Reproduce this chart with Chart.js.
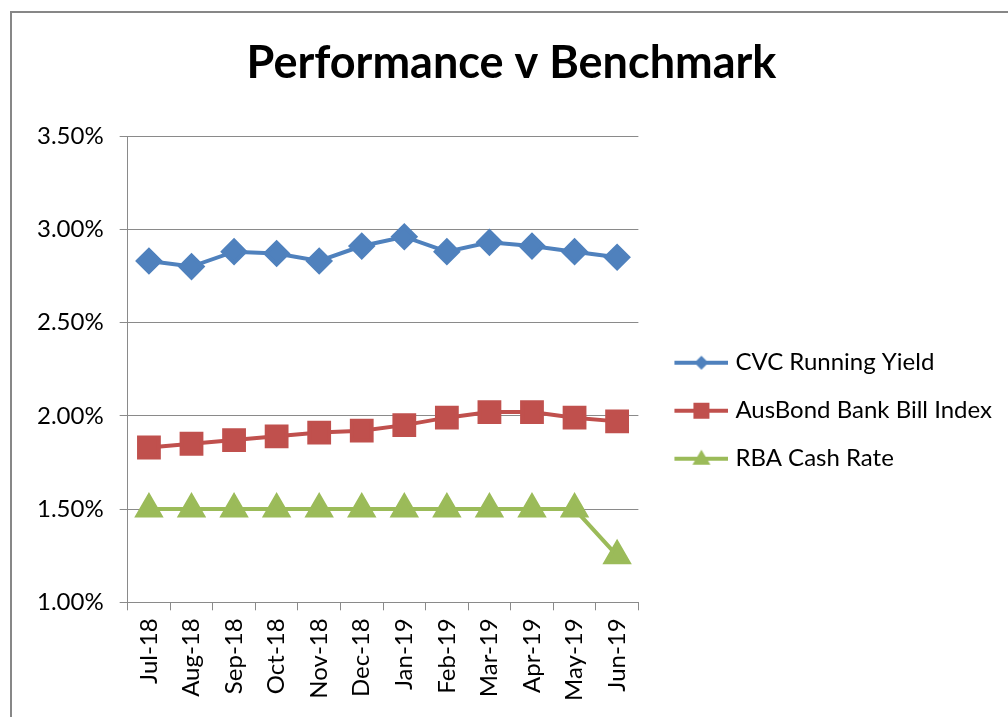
<!DOCTYPE html>
<html>
<head>
<meta charset="utf-8">
<script src="https://cdn.jsdelivr.net/npm/chart.js@4"></script>
<style>
  body { margin: 0; background: #fff; }
  #wrap { width: 1008px; height: 717px; }
</style>
</head>
<body>
<div id="wrap"><canvas id="perf-graph" width="1008" height="717"></canvas></div>
<script>
const months = ['Jul-18', 'Aug-18', 'Sep-18', 'Oct-18', 'Nov-18', 'Dec-18',
                'Jan-19', 'Feb-19', 'Mar-19', 'Apr-19', 'May-19', 'Jun-19'];
const cvcYield = [2.83, 2.80, 2.88, 2.87, 2.83, 2.91, 2.96, 2.88, 2.93, 2.91, 2.88, 2.85];
const ausBond = [1.83, 1.85, 1.87, 1.89, 1.91, 1.92, 1.95, 1.99, 2.02, 2.02, 1.99, 1.97];
const rbaCash = [1.50, 1.50, 1.50, 1.50, 1.50, 1.50, 1.50, 1.50, 1.50, 1.50, 1.50, 1.25];
const yTicks = [1.00, 1.50, 2.00, 2.50, 3.00, 3.50];

const FONT = 'Lato';
const gridGrey = '#8a8a8a';

// legend icon: short line with the marker in the middle
function legendIcon(color, shape) {
    const c = document.createElement('canvas');
    c.width = 71; c.height = 24;
    const g = c.getContext('2d');
    g.strokeStyle = color; g.fillStyle = color; g.lineWidth = 4;
    g.beginPath(); g.moveTo(17, 12); g.lineTo(71, 12); g.stroke();
    const cx = 44, cy = 12;
    g.beginPath();
    if (shape == 'diamond') {
        g.moveTo(cx, cy - 7); g.lineTo(cx + 7, cy); g.lineTo(cx, cy + 7); g.lineTo(cx - 7, cy);
    } else if (shape == 'square') {
        g.rect(cx - 8, cy - 8, 16, 16);
    } else {
        g.moveTo(cx, cy - 9); g.lineTo(cx + 9, cy + 6); g.lineTo(cx - 9, cy + 6);
    }
    g.closePath(); g.fill();
    return c;
}

const frame = {
    id: 'frame',
    beforeDraw(chart) {
        const ctx = chart.ctx;
        ctx.save();
        ctx.fillStyle = '#fff';
        ctx.fillRect(0, 0, chart.width, chart.height);
        ctx.strokeStyle = '#878787';
        ctx.lineWidth = 2;
        ctx.strokeRect(11, 12, 1010, 720);
        ctx.restore();
    }
};

const icons = [legendIcon('#4F81BD', 'diamond'), legendIcon('#C0504D', 'square'), legendIcon('#9BBB59', 'tri')];

const canvas = document.getElementById('perf-graph');
const perf_graph = new Chart(canvas, {
    type: 'line',
    data: {
        labels: months,
        datasets: [
            {
                label: 'CVC Running Yield',
                data: cvcYield,
                borderColor: '#4F81BD',
                backgroundColor: '#4F81BD',
                borderWidth: 4,
                pointStyle: 'rectRot',
                pointRadius: 11,
                pointHoverRadius: 11,
            },
            {
                label: 'AusBond Bank Bill Index',
                data: ausBond,
                borderColor: '#C0504D',
                backgroundColor: '#C0504D',
                borderWidth: 4,
                pointStyle: 'rect',
                pointRadius: 14,
                pointHoverRadius: 14,
            },
            {
                label: 'RBA Cash Rate',
                data: rbaCash,
                borderColor: '#9BBB59',
                backgroundColor: '#9BBB59',
                borderWidth: 4,
                pointStyle: 'triangle',
                pointRadius: 13,
                pointHoverRadius: 13,
            },
        ]
    },
    options: {
        responsive: false,
        animation: false,
        layout: { padding: { left: 21, right: 6, bottom: 8 } },
        elements: { line: { tension: 0 }, point: { borderWidth: 1 } },
        scales: {
            x: {
                offset: true,
                grid: {
                    offset: true,
                    drawOnChartArea: false,
                    color: gridGrey,
                    tickLength: 8,
                },
                border: { color: gridGrey },
                ticks: {
                    minRotation: 90,
                    maxRotation: 90,
                    padding: 8,
                    color: '#000',
                    font: { family: FONT, size: 24 },
                },
            },
            y: {
                min: yTicks[0],
                max: yTicks[yTicks.length - 1],
                afterBuildTicks: (axis) => { axis.ticks = yTicks.map(v => ({ value: v })); },
                grid: { color: gridGrey, tickLength: 8 },
                border: { color: gridGrey },
                ticks: {
                    padding: 16,
                    color: '#000',
                    font: { family: FONT, size: 24 },
                    callback: (v) => v.toFixed(2) + '%',
                },
            },
        },
        plugins: {
            title: {
                display: true,
                text: 'Performance v Benchmark',
                color: '#000',
                font: { family: FONT, size: 45, weight: 'bold' },
                padding: { top: 36, bottom: 46 },
            },
            legend: {
                position: 'right',
                maxWidth: 420,
                title: { display: true, text: ' ', padding: 49 },
                labels: {
                    usePointStyle: true,
                    pointStyleWidth: 61,
                    padding: 24,
                    color: '#000',
                    font: { family: FONT, size: 24 },
                    generateLabels: (chart) => chart.data.datasets.map((ds, i) => ({
                        text: ds.label,
                        pointStyle: icons[i],
                        fillStyle: ds.borderColor,
                        strokeStyle: ds.borderColor,
                        lineWidth: 0,
                        hidden: false,
                        datasetIndex: i,
                        fontColor: '#000',
                    })),
                },
            },
            tooltip: { enabled: false },
        },
    },
    plugins: [frame],
});
</script>
</body>
</html>
